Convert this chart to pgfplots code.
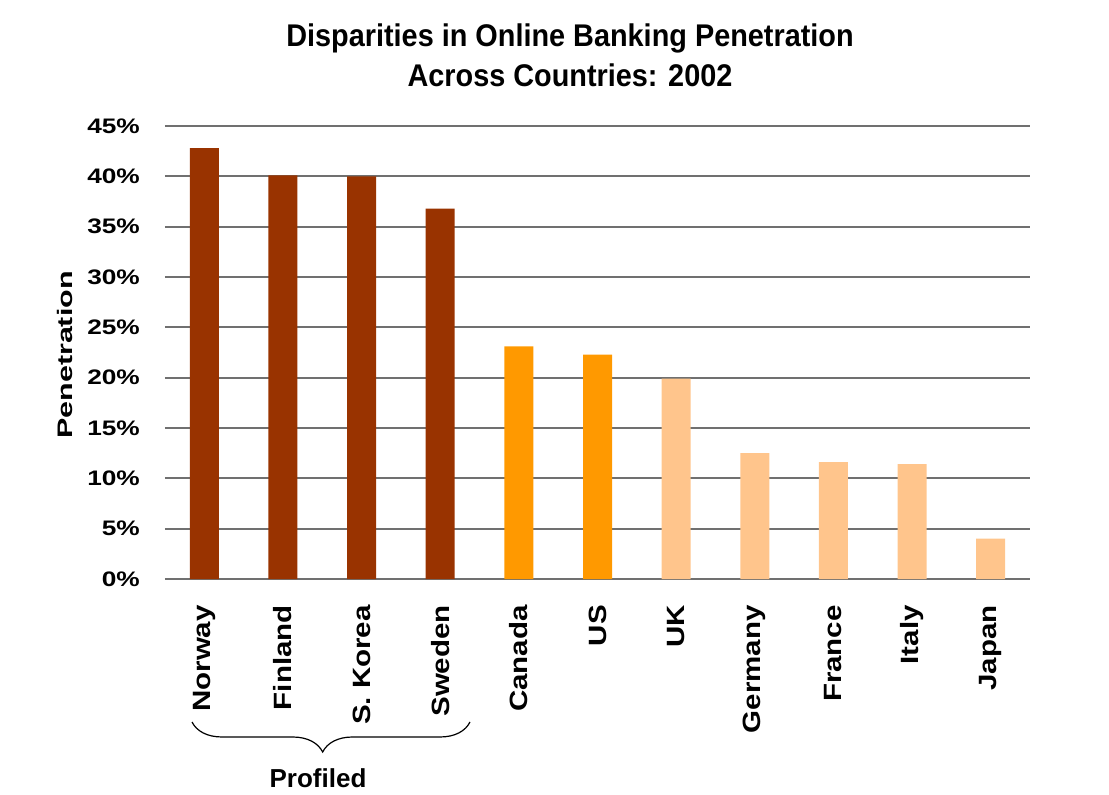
\documentclass[border=0pt]{standalone}
\usepackage{pgfplots}
\pgfplotsset{compat=1.18}
\usepackage{fontspec}
\setmainfont{Liberation Sans}
\usetikzlibrary{decorations.pathreplacing}
\definecolor{cdark}{HTML}{993300}
\definecolor{corange}{HTML}{FF9900}
\definecolor{clight}{HTML}{FFC58C}
\definecolor{cgrid}{HTML}{707070}
\newcommand\xl[1]{\scalebox{1.18}[1]{#1}}
\newcommand\yl[1]{\scalebox{1.25}[1]{#1}}
\begin{document}
\begin{tikzpicture}
\begin{axis}[
  scale only axis, width=865pt, height=453pt,
  xmin=-0.5, xmax=10.5, ymin=0, ymax=45,
  ybar, bar width=29pt,
  axis line style={draw=none},
  major tick length=0pt,
  ymajorgrids, grid style={cgrid, line width=1.8pt},
  ytick={0,5,...,45},
  yticklabels={\yl{0\%},\yl{5\%},\yl{10\%},\yl{15\%},\yl{20\%},\yl{25\%},\yl{30\%},\yl{35\%},\yl{40\%},\yl{45\%}},
  xtick={0,...,10},
  xticklabels={\xl{Norway},\xl{Finland},\xl{S. Korea},\xl{Sweden},\xl{Canada},\xl{US},\xl{UK},\xl{Germany},\xl{France},\xl{Italy},\xl{Japan}},
  yticklabel style={font=\fontsize{21}{24}\selectfont\bfseries, anchor=east, inner sep=0pt},
  yticklabel shift=25pt,
  xticklabel style={font=\fontsize{25}{28}\selectfont\bfseries, rotate=90, anchor=east, inner sep=0pt},
  xticklabel shift=26pt,
]
\addplot[fill=cdark, draw=none, bar shift=0pt] coordinates {(0,42.8) (1,40.1) (2,40.0) (3,36.8)};
\addplot[fill=corange, draw=none, bar shift=0pt] coordinates {(4,23.1) (5,22.3)};
\addplot[fill=clight, draw=none, bar shift=0pt] coordinates {(6,19.9) (7,12.5) (8,11.6) (9,11.4) (10,4.0)};
\end{axis}
\node[font=\fontsize{28}{32}\selectfont\bfseries] at (405pt,541pt) {\scalebox{1.03}[1.12]{Disparities in Online Banking Penetration}};
\node[font=\fontsize{28}{32}\selectfont\bfseries] at (405pt,504pt) {\scalebox{1.03}[1.12]{Across Countries: 2002}};
\node[rotate=90, font=\fontsize{21}{24}\selectfont\bfseries] at (-100pt,224pt) {\scalebox{1.45}[1]{Penetration}};
\draw[line width=1.2pt, decorate, decoration={brace, mirror, amplitude=30pt, aspect=0.47}] (27pt,-143pt) -- (305pt,-143pt);
\node[font=\fontsize{26}{30}\selectfont\bfseries] at (153pt,-199pt) {Profiled};
\pgfresetboundingbox
\path[use as bounding box] (-165pt,-216pt) rectangle (944pt,579pt);
\end{tikzpicture}
\end{document}
